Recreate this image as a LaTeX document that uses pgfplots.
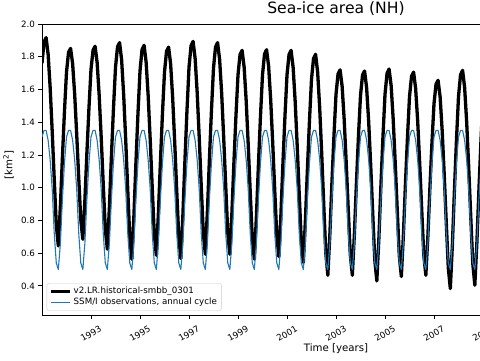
\documentclass[border=0pt]{standalone}
\usepackage{pgfplots}
\pgfplotsset{compat=1.18}
\usepackage{fontspec}
\setmainfont{DejaVu Sans}
\definecolor{mplblue}{HTML}{1F77B4}
\definecolor{legedge}{gray}{0.8}
\begin{document}
\begin{tikzpicture}
\useasboundingbox (0,0) rectangle (480pt,360pt);
\clip (0,0) rectangle (480pt,360pt);
\begin{axis}[
  at={(42pt,45pt)}, anchor=south west,
  scale only axis, width=588pt, height=291pt,
  xmin=1991, xmax=2015, ymin=0.222, ymax=2.0,
  xtick={1993,1995,1997,1999,2001,2003,2005,2007,2009},
  ytick={0.4,0.6,0.8,1.0,1.2,1.4,1.6,1.8,2.0},
  scaled ticks=false,
  tick align=outside, major tick length=3.6pt,
  tick style={line width=0.8pt, black},
  xtick pos=bottom, ytick pos=left,
  minor tick num=0,
  axis line style={line width=0.8pt, black},
  /pgf/number format/assume math mode=true,
  x tick label style={/pgf/number format/1000 sep={}, font=\fontsize{8.7}{10}\selectfont,
     anchor=center, inner sep=0pt, yshift=-15pt, rotate=30},
  y tick label style={/pgf/number format/fixed, /pgf/number format/fixed zerofill,
     /pgf/number format/precision=1, font=\fontsize{8.7}{10}\selectfont},
  xlabel={Time [years]},
  xlabel style={at={(axis description cs:0.5,0)}, anchor=base, yshift=-36pt, font=\fontsize{10.2}{12}\selectfont},
  ylabel={[km\textsuperscript{2}]},
  ylabel style={at={(axis description cs:-0.057,0.515)}, anchor=center, font=\fontsize{10.2}{12}\selectfont},
  title={Sea-ice area (NH)},
  title style={at={(axis description cs:0.5,1)}, anchor=base, yshift=4.5pt, font=\fontsize{15.6}{18}\selectfont},
  legend style={at={(axis description cs:0.008,0.0148)}, anchor=south west,
     draw=legedge, rounded corners=2pt, fill=white, fill opacity=0.8, text opacity=1,
     font=\fontsize{8.7}{10}\selectfont, inner xsep=2.5pt, inner ysep=2pt,
     row sep=-1pt},
  legend cell align=left,
  legend image code/.code={\draw[#1] (0pt,0pt) -- (19pt,0pt);},
]
\addplot[black, line width=3.3pt, line join=round] table[row sep=\\, x expr=1991+\coordindex/12, y index=0] {
v\\
1.760\\ 1.890\\ 1.917\\ 1.815\\ 1.611\\ 1.344\\ 1.051\\ 0.771\\ 0.644\\ 0.885\\ 1.187\\ 1.465\\
1.706\\ 1.827\\ 1.851\\ 1.758\\ 1.571\\ 1.326\\ 1.058\\ 0.802\\ 0.685\\ 0.921\\ 1.216\\ 1.487\\
1.723\\ 1.840\\ 1.864\\ 1.765\\ 1.566\\ 1.306\\ 1.021\\ 0.748\\ 0.624\\ 0.876\\ 1.192\\ 1.482\\
1.735\\ 1.861\\ 1.886\\ 1.780\\ 1.568\\ 1.291\\ 0.986\\ 0.695\\ 0.563\\ 0.824\\ 1.151\\ 1.452\\
1.713\\ 1.844\\ 1.870\\ 1.767\\ 1.562\\ 1.293\\ 0.998\\ 0.715\\ 0.587\\ 0.841\\ 1.159\\ 1.452\\
1.706\\ 1.834\\ 1.859\\ 1.756\\ 1.549\\ 1.278\\ 0.980\\ 0.696\\ 0.567\\ 0.832\\ 1.164\\ 1.469\\
1.735\\ 1.867\\ 1.894\\ 1.790\\ 1.582\\ 1.309\\ 1.009\\ 0.723\\ 0.593\\ 0.852\\ 1.175\\ 1.472\\
1.731\\ 1.860\\ 1.886\\ 1.783\\ 1.576\\ 1.304\\ 1.007\\ 0.722\\ 0.593\\ 0.842\\ 1.154\\ 1.440\\
1.689\\ 1.814\\ 1.839\\ 1.737\\ 1.533\\ 1.265\\ 0.971\\ 0.691\\ 0.563\\ 0.819\\ 1.139\\ 1.433\\
1.689\\ 1.817\\ 1.843\\ 1.742\\ 1.540\\ 1.274\\ 0.983\\ 0.705\\ 0.579\\ 0.831\\ 1.146\\ 1.436\\
1.688\\ 1.814\\ 1.839\\ 1.735\\ 1.528\\ 1.256\\ 0.958\\ 0.673\\ 0.543\\ 0.797\\ 1.115\\ 1.408\\
1.662\\ 1.790\\ 1.815\\ 1.707\\ 1.491\\ 1.208\\ 0.897\\ 0.600\\ 0.465\\ 0.716\\ 1.030\\ 1.318\\
1.569\\ 1.695\\ 1.720\\ 1.620\\ 1.419\\ 1.155\\ 0.867\\ 0.591\\ 0.465\\ 0.715\\ 1.027\\ 1.314\\
1.563\\ 1.688\\ 1.713\\ 1.610\\ 1.405\\ 1.136\\ 0.841\\ 0.558\\ 0.430\\ 0.689\\ 1.013\\ 1.311\\
1.570\\ 1.699\\ 1.725\\ 1.624\\ 1.421\\ 1.154\\ 0.863\\ 0.584\\ 0.457\\ 0.707\\ 1.019\\ 1.306\\
1.556\\ 1.681\\ 1.706\\ 1.607\\ 1.408\\ 1.148\\ 0.862\\ 0.589\\ 0.465\\ 0.703\\ 1.001\\ 1.275\\
1.513\\ 1.632\\ 1.656\\ 1.554\\ 1.350\\ 1.083\\ 0.790\\ 0.510\\ 0.383\\ 0.650\\ 0.983\\ 1.290\\
1.557\\ 1.690\\ 1.717\\ 1.612\\ 1.402\\ 1.126\\ 0.824\\ 0.535\\ 0.404\\ 0.663\\ 0.987\\ 1.285\\
1.550\\ 1.680\\ 1.700\\
};
\addlegendentry{v2.LR.historical-smbb\_0301}
\addplot[mplblue, line width=1.1pt, line join=round] table[row sep=\\, x expr=1991+\coordindex/12, y index=0] {
v\\
1.31\\ 1.35\\ 1.35\\ 1.29\\ 1.17\\ 0.99\\ 0.72\\ 0.54\\ 0.50\\ 0.66\\ 0.93\\ 1.15\\
1.31\\ 1.35\\ 1.35\\ 1.29\\ 1.17\\ 0.99\\ 0.72\\ 0.54\\ 0.50\\ 0.66\\ 0.93\\ 1.15\\
1.31\\ 1.35\\ 1.35\\ 1.29\\ 1.17\\ 0.99\\ 0.72\\ 0.54\\ 0.50\\ 0.66\\ 0.93\\ 1.15\\
1.31\\ 1.35\\ 1.35\\ 1.29\\ 1.17\\ 0.99\\ 0.72\\ 0.54\\ 0.50\\ 0.66\\ 0.93\\ 1.15\\
1.31\\ 1.35\\ 1.35\\ 1.29\\ 1.17\\ 0.99\\ 0.72\\ 0.54\\ 0.50\\ 0.66\\ 0.93\\ 1.15\\
1.31\\ 1.35\\ 1.35\\ 1.29\\ 1.17\\ 0.99\\ 0.72\\ 0.54\\ 0.50\\ 0.66\\ 0.93\\ 1.15\\
1.31\\ 1.35\\ 1.35\\ 1.29\\ 1.17\\ 0.99\\ 0.72\\ 0.54\\ 0.50\\ 0.66\\ 0.93\\ 1.15\\
1.31\\ 1.35\\ 1.35\\ 1.29\\ 1.17\\ 0.99\\ 0.72\\ 0.54\\ 0.50\\ 0.66\\ 0.93\\ 1.15\\
1.31\\ 1.35\\ 1.35\\ 1.29\\ 1.17\\ 0.99\\ 0.72\\ 0.54\\ 0.50\\ 0.66\\ 0.93\\ 1.15\\
1.31\\ 1.35\\ 1.35\\ 1.29\\ 1.17\\ 0.99\\ 0.72\\ 0.54\\ 0.50\\ 0.66\\ 0.93\\ 1.15\\
1.31\\ 1.35\\ 1.35\\ 1.29\\ 1.17\\ 0.99\\ 0.72\\ 0.54\\ 0.50\\ 0.66\\ 0.93\\ 1.15\\
1.31\\ 1.35\\ 1.35\\ 1.29\\ 1.17\\ 0.99\\ 0.72\\ 0.54\\ 0.50\\ 0.66\\ 0.93\\ 1.15\\
1.31\\ 1.35\\ 1.35\\ 1.29\\ 1.17\\ 0.99\\ 0.72\\ 0.54\\ 0.50\\ 0.66\\ 0.93\\ 1.15\\
1.31\\ 1.35\\ 1.35\\ 1.29\\ 1.17\\ 0.99\\ 0.72\\ 0.54\\ 0.50\\ 0.66\\ 0.93\\ 1.15\\
1.31\\ 1.35\\ 1.35\\ 1.29\\ 1.17\\ 0.99\\ 0.72\\ 0.54\\ 0.50\\ 0.66\\ 0.93\\ 1.15\\
1.31\\ 1.35\\ 1.35\\ 1.29\\ 1.17\\ 0.99\\ 0.72\\ 0.54\\ 0.50\\ 0.66\\ 0.93\\ 1.15\\
1.31\\ 1.35\\ 1.35\\ 1.29\\ 1.17\\ 0.99\\ 0.72\\ 0.54\\ 0.50\\ 0.66\\ 0.93\\ 1.15\\
1.31\\ 1.35\\ 1.35\\ 1.29\\ 1.17\\ 0.99\\ 0.72\\ 0.54\\ 0.50\\ 0.66\\ 0.93\\ 1.15\\
1.31\\ 1.35\\ 1.35\\
};
\addlegendentry{SSM/I observations, annual cycle}
\node[anchor=base west, font=\fontsize{8.7}{10}\selectfont, inner sep=0pt, yshift=2.5pt] at (rel axis cs:0,1) {1e7};
\end{axis}
\end{tikzpicture}
\end{document}
